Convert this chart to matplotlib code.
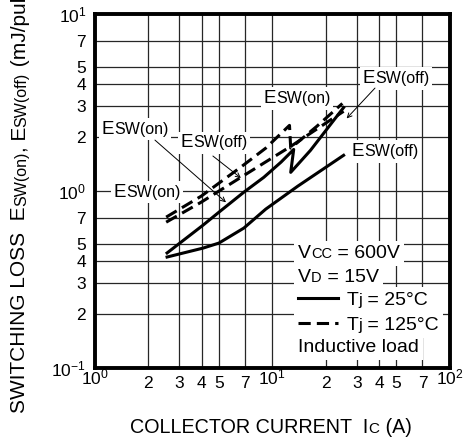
import numpy as np
import matplotlib.pyplot as plt
from matplotlib.offsetbox import TextArea, HPacker, AnnotationBbox, DrawingArea
from matplotlib.lines import Line2D
from matplotlib.transforms import ScaledTranslation

plt.rcParams['font.family'] = 'Liberation Sans'
plt.rcParams['mathtext.fontset'] = 'custom'
plt.rcParams['mathtext.rm'] = 'Liberation Sans'

# switching loss vs collector current
ic_on25 = [2.56, 4.08, 5.01, 6.92, 8.96, 11.2, 13.2, 12.7, 16.4, 25.2]
esw_on25 = [0.445, 0.639, 0.756, 0.981, 1.19, 1.45, 1.71, 1.27, 1.69, 2.95]

ic_off25 = [2.56, 4.08, 5.01, 6.92, 9.19, 13.9, 25.2]
esw_off25 = [0.422, 0.474, 0.506, 0.615, 0.787, 1.06, 1.585]

ic_on125 = [2.53, 3.98, 6.66, 9.19, 12.5, 12.7, 17.8, 24.8]
esw_on125 = [0.709, 0.931, 1.36, 1.74, 2.34, 1.74, 2.31, 3.11]

ic_off125 = [2.53, 3.98, 6.66, 12.7, 25.2]
esw_off125 = [0.664, 0.861, 1.19, 1.78, 2.81]

x_ticks = [1, 2, 3, 4, 5, 7, 10, 20, 30, 40, 50, 70, 100]
x_labels = [r'$\mathregular{10^{0}}$', '2', '3', '4', '5', '7', r'$\mathregular{10^{1}}$',
            '2', '3', '4', '5', '7', r'$\mathregular{10^{2}}$']
y_ticks = [0.1, 0.2, 0.3, 0.4, 0.5, 0.7, 1, 2, 3, 4, 5, 7, 10]
y_labels = [r'$\mathregular{10^{-1}}$', '2', '3', '4', '5', '7', r'$\mathregular{10^{0}}$',
            '2', '3', '4', '5', '7', r'$\mathregular{10^{1}}$']

fig = plt.figure(figsize=(4.67, 4.41), dpi=100)
ax = fig.add_axes([0.2024, 0.1662, 0.7612, 0.8027])

dash = (0, (4.0, 2.0))
ax.plot(ic_on25, esw_on25, color='k', lw=2.2, zorder=3)
ax.plot(ic_off25, esw_off25, color='k', lw=2.2, zorder=3)
ax.plot(ic_on125, esw_on125, color='k', lw=2.2, ls=dash, zorder=3)
ax.plot(ic_off125, esw_off125, color='k', lw=2.2, ls=dash, zorder=3)

ax.set_xscale('log')
ax.set_yscale('log')
ax.set_xlim(1, 100)
ax.set_ylim(0.1, 10)
ax.set_xticks(x_ticks, x_labels)
ax.set_yticks(y_ticks, y_labels)
ax.minorticks_off()
ax.tick_params(length=0, labelsize=12.5)
ax.tick_params(axis='x', pad=6)
ax.tick_params(axis='y', pad=6)
ax.grid(True, color='0.15', lw=0.9)
ax.set_axisbelow(True)
for s in ax.spines.values():
    s.set_linewidth(2.8)
    s.set_zorder(6)

# the decade labels sit a little higher than the digits
lift = ScaledTranslation(0, 6 / 72, fig.dpi_scale_trans)
for i, lab in enumerate(ax.get_xticklabels()):
    if i in (0, 6, 12):
        lab.set_transform(lab.get_transform() + lift)


def mixed(parts):
    kids = [TextArea(s, textprops=dict(fontsize=fs)) for s, fs in parts]
    return HPacker(children=kids, align='baseline', pad=0, sep=0)


def put(box, xy, align=(0.5, 0.5), pad=0.2):
    ab = AnnotationBbox(box, xy, xycoords='axes fraction', box_alignment=align,
                        frameon=True, pad=pad,
                        bboxprops=dict(facecolor='white', edgecolor='none'))
    ab.set_zorder(5)
    ax.add_artist(ab)


# curve labels
put(mixed([('E', 13.5), ('SW(on)', 11.5)]), (0.114, 0.674))
put(mixed([('E', 13.5), ('SW(off)', 11.5)]), (0.336, 0.635))
put(mixed([('E', 13.5), ('SW(on)', 11.5)]), (0.147, 0.496))
put(mixed([('E', 13.5), ('SW(on)', 11.5)]), (0.569, 0.761))
put(mixed([('E', 13.5), ('SW(off)', 11.5)]), (0.848, 0.8175))
put(mixed([('E', 13.5), ('SW(off)', 11.5)]), (0.817, 0.610))

arrow = dict(arrowstyle='->', lw=0.7, color='k', shrinkA=0, shrinkB=0,
             mutation_scale=8)
ax.annotate('', xy=(5.49, 0.86), xytext=(0.170, 0.643),
            textcoords='axes fraction', arrowprops=arrow, zorder=6)
ax.annotate('', xy=(6.66, 1.18), xytext=(0.333, 0.598),
            textcoords='axes fraction', arrowprops=arrow, zorder=6)
ax.annotate('', xy=(26.2, 2.56), xytext=(0.789, 0.790),
            textcoords='axes fraction', arrowprops=arrow, zorder=6)


# condition box
def sample(ls):
    da = DrawingArea(29, 8, 0, 0)
    da.add_artist(Line2D([0, 29], [5, 5], color='k', lw=2.2, ls=ls))
    return da


rows = [
    (mixed([('V', 14), ('CC', 10.5), (' = 600V', 14)]), 0.3226),
    (mixed([('V', 14), ('D', 10.5), (' = 15V', 14)]), 0.2562),
    (HPacker(children=[sample('-'), mixed([('T', 14), ('j', 12), (' = 25°C', 14)])],
             align='baseline', pad=0, sep=6), 0.1912),
    (HPacker(children=[sample(dash), mixed([('T', 14), ('j', 12), (' = 125°C', 14)])],
             align='baseline', pad=0, sep=6), 0.1206),
    (mixed([('Inductive load', 14)]), 0.0571),
]
for box, yy in rows:
    put(box, (0.5724, yy), align=(0, 0.5), pad=0.3)

# axis labels
xl = AnnotationBbox(mixed([('COLLECTOR CURRENT  I', 14.2), ('C', 11), (' (A)', 14.2)]),
                    (0.5803, 0.0295), xycoords='figure fraction', frameon=False)
fig.add_artist(xl)

t = fig.text(20 / 467, 1 - 413 / 441, 'SWITCHING LOSS  E', rotation=90,
             ha='center', va='bottom', fontsize=15)
for s, fs in [('SW(on)', 11.5), (', E', 15), ('SW(off)', 11.5), (' (mJ/pulse)', 15)]:
    t = ax.annotate(s, xy=(1, 1), xycoords=t, rotation=90, ha='right',
                    va='bottom', fontsize=fs)

fig.savefig('out.png', dpi=100)
